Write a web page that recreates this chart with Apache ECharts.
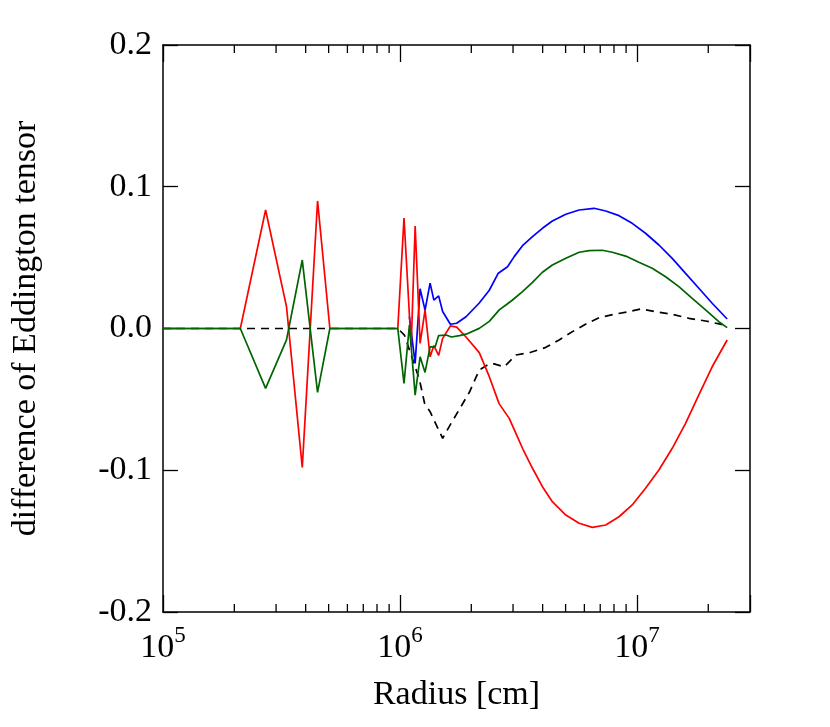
<!DOCTYPE html>
<html>
<head>
<meta charset="utf-8">
<script src="https://cdn.jsdelivr.net/npm/echarts@6/dist/echarts.min.js"></script>
<style>
  html, body { margin: 0; padding: 0; background: #fff; }
  #chart { width: 830px; height: 727px; }
</style>
</head>
<body>
<div id="chart"></div>
<script>
// radius [cm] and difference values
var blackR = [1e5, 9.79e5, 1.044e6, 1.208e6, 1.27e6, 1.34e6, 1.514e6, 1.616e6, 1.963e6, 2.161e6, 2.382e6, 2.497e6, 2.754e6, 3.085e6, 3.565e6, 4.126e6, 4.694e6, 5.345e6, 6.18e6, 6.918e6, 8.003e6, 9.25e6, 1.036e7, 1.198e7, 1.409e7, 1.656e7, 1.948e7, 2.403e7];
var blackY = [0, 0, -0.0046, -0.036, -0.0527, -0.0587, -0.0775, -0.069, -0.045, -0.0293, -0.025, -0.025, -0.027, -0.0187, -0.0168, -0.0133, -0.0081, -0.0022, 0.0037, 0.0076, 0.010, 0.0119, 0.0138, 0.0119, 0.010, 0.0072, 0.0053, 0.002];

var blueR = [1.096e6, 1.159e6, 1.216e6, 1.276e6, 1.34e6, 1.39e6, 1.456e6, 1.514e6, 1.632e6, 1.735e6, 1.9e6, 2.161e6, 2.382e6, 2.6e6, 2.844e6, 3.034e6, 3.289e6, 3.624e6, 3.992e6, 4.396e6, 5.012e6, 5.702e6, 6.592e6, 7.387e6, 8.4e6, 9.55e6, 1.087e7, 1.238e7, 1.409e7, 1.604e7, 1.825e7, 2.077e7, 2.403e7];
var blueY = [0.0083, -0.0246, 0.028, 0.013, 0.032, 0.020, 0.023, 0.012, 0.003, 0.0037, 0.0083, 0.018, 0.027, 0.039, 0.0436, 0.0507, 0.0584, 0.0648, 0.0707, 0.0758, 0.0806, 0.0836, 0.0848, 0.0829, 0.0796, 0.0742, 0.0672, 0.0589, 0.0495, 0.0389, 0.0284, 0.0178, 0.0067];

var redR = [1e5, 2.12e5, 2.71e5, 3.32e5, 3.87e5, 4.49e5, 5.06e5, 9.79e5, 1.04e6, 1.115e6, 1.159e6, 1.216e6, 1.276e6, 1.34e6, 1.39e6, 1.456e6, 1.514e6, 1.632e6, 1.735e6, 1.9e6, 2.161e6, 2.382e6, 2.62e6, 2.891e6, 3.085e6, 3.289e6, 3.624e6, 3.992e6, 4.396e6, 5.012e6, 5.702e6, 6.486e6, 7.387e6, 8.4e6, 9.55e6, 1.087e7, 1.238e7, 1.409e7, 1.604e7, 1.825e7, 2.077e7, 2.403e7];
var redY = [0, 0, 0.0836, 0.0154, -0.098, 0.090, 0, 0, 0.078, -0.0128, 0.0723, -0.0105, 0.013, -0.020, -0.012, -0.019, -0.007, 0.0018, 0.001, -0.006, -0.017, -0.034, -0.053, -0.0634, -0.074, -0.0845, -0.0986, -0.1116, -0.1222, -0.1316, -0.1374, -0.1403, -0.1386, -0.1328, -0.1245, -0.1127, -0.0998, -0.0845, -0.0669, -0.0469, -0.027, -0.0081];

var greenR = [1e5, 2.12e5, 2.71e5, 3.32e5, 3.87e5, 4.49e5, 5.06e5, 9.79e5, 1.04e6, 1.096e6, 1.159e6, 1.216e6, 1.276e6, 1.34e6, 1.407e6, 1.456e6, 1.565e6, 1.65e6, 1.781e6, 1.9e6, 2.161e6, 2.382e6, 2.624e6, 2.799e6, 2.985e6, 3.289e6, 3.624e6, 3.992e6, 4.396e6, 5.012e6, 5.702e6, 6.281e6, 7.145e6, 7.87e6, 8.966e6, 1.019e7, 1.16e7, 1.321e7, 1.503e7, 1.711e7, 1.948e7, 2.216e7, 2.403e7];
var greenY = [0, 0, -0.0422, -0.008, 0.0483, -0.045, 0, 0, -0.0387, 0.0025, -0.047, -0.020, -0.031, -0.013, -0.013, -0.005, -0.0046, -0.006, -0.005, -0.004, 0.0001, 0.005, 0.0131, 0.0166, 0.0201, 0.026, 0.0326, 0.0397, 0.0448, 0.0495, 0.0538, 0.0549, 0.0552, 0.0538, 0.0511, 0.0467, 0.0425, 0.0365, 0.0295, 0.0213, 0.0131, 0.0048, 0.0006];

// minor tick positions on the log axis
var minorTicks = [2e5, 3e5, 4e5, 5e5, 6e5, 7e5, 8e5, 9e5, 2e6, 3e6, 4e6, 5e6, 6e6, 7e6, 8e6, 9e6, 2e7];

var FONT = "'Liberation Serif', 'DejaVu Serif', serif";

function zip(xs, ys) {
  return xs.map(function (x, i) { return [x, ys[i]]; });
}

function lineSeries(name, xs, ys, color, dashed) {
  return {
    name: name,
    type: 'line',
    data: zip(xs, ys),
    showSymbol: false,
    symbol: 'none',
    lineStyle: { color: color, width: 1.7, type: dashed ? [8, 6] : 'solid' },
    animation: false
  };
}

var chart = echarts.init(document.getElementById('chart'), null, { renderer: 'canvas' });

var xLabelFmt = function (v) {
  var l = Math.log10(v);
  var e = Math.round(l);
  if (Math.abs(l - e) > 1e-6) return '';
  return '{b|10}{s|' + e + '}';
};

var tickStyle = { color: '#000', width: 1.3 };

chart.setOption({
  backgroundColor: '#fff',
  animation: false,
  grid: { left: 163, right: 80, top: 45, bottom: 115 },
  xAxis: [
    {
      type: 'log', logBase: 10, min: 1e5, max: 3e7, position: 'bottom',
      name: 'Radius [cm]', nameLocation: 'middle', nameGap: 66,
      nameTextStyle: { fontFamily: FONT, fontSize: 34, color: '#000' },
      axisLine: { onZero: false, lineStyle: { color: '#000', width: 1.5 } },
      axisTick: { inside: true, length: 17, lineStyle: tickStyle },
      splitLine: { show: false },
      axisLabel: {
        margin: 12, color: '#000', formatter: xLabelFmt,
        rich: {
          b: { fontFamily: FONT, fontSize: 34, lineHeight: 48, color: '#000' },
          s: { fontFamily: FONT, fontSize: 23, lineHeight: 23, verticalAlign: 'top', color: '#000' }
        }
      }
    },
    {
      type: 'log', logBase: 10, min: 1e5, max: 3e7, position: 'top',
      axisLine: { onZero: false, lineStyle: { color: '#000', width: 1.5 } },
      axisTick: { inside: true, length: 17, lineStyle: tickStyle },
      axisLabel: { show: false },
      splitLine: { show: false }
    }
  ],
  yAxis: [
    {
      type: 'value', min: -0.2, max: 0.2, interval: 0.1, position: 'left',
      name: 'difference of Eddington tensor', nameLocation: 'middle', nameGap: 120,
      nameTextStyle: { fontFamily: FONT, fontSize: 34, color: '#000' },
      axisLine: { show: true, onZero: false, lineStyle: { color: '#000', width: 1.5 } },
      axisTick: { show: true, inside: true, length: 15, lineStyle: tickStyle },
      splitLine: { show: false },
      axisLabel: {
        margin: 11, color: '#000', fontFamily: FONT, fontSize: 34,
        formatter: function (v) { return Math.abs(v) < 1e-9 ? '0.0' : v.toFixed(1); }
      }
    },
    {
      type: 'value', min: -0.2, max: 0.2, interval: 0.1, position: 'right',
      axisLine: { show: true, onZero: false, lineStyle: { color: '#000', width: 1.5 } },
      axisTick: { show: true, inside: true, length: 15, lineStyle: tickStyle },
      axisLabel: { show: false },
      splitLine: { show: false }
    }
  ],
  series: [
    lineSeries('black', blackR, blackY, '#000000', true),
    lineSeries('blue', blueR, blueY, '#0000ff', false),
    lineSeries('red', redR, redY, '#ff0000', false),
    lineSeries('green', greenR, greenY, '#006400', false),
    {
      // minor ticks on the bottom and top edges
      type: 'custom',
      silent: true,
      animation: false,
      data: minorTicks.map(function (r) { return [r, 0]; }),
      renderItem: function (params, api) {
        var x = api.coord([api.value(0), 0])[0];
        var cs = params.coordSys;
        var st = { stroke: '#000', lineWidth: 1.3 };
        return {
          type: 'group',
          children: [
            { type: 'line', shape: { x1: x, y1: cs.y + cs.height, x2: x, y2: cs.y + cs.height - 8 }, style: st },
            { type: 'line', shape: { x1: x, y1: cs.y, x2: x, y2: cs.y + 8 }, style: st }
          ]
        };
      }
    }
  ]
});
</script>
</body>
</html>
